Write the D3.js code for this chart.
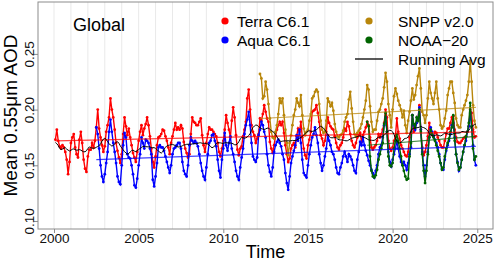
<!DOCTYPE html>
<html>
<head>
<meta charset="utf-8">
<script src="https://cdn.jsdelivr.net/npm/d3@7"></script>
<style>
  body { margin: 0; background: #fff; }
  svg { display: block; font-family: "Liberation Sans", Arial, Helvetica, sans-serif; }
</style>
</head>
<body>
<div id="chart"></div>
<script>
// monthly global mean 0.55um AOD, in thousandths, one row per year
var terraStart = [2000, 2];
var terraAOD = [
  173,182,172,167,165,168,166,162,155,142,153,
  170,175,178,166,160,157,173,180,170,155,147,144,
  158,164,164,170,166,172,184,200,183,175,168,162,
  167,180,186,193,210,200,193,182,170,163,157,152,
  160,178,193,185,177,183,175,168,161,157,153,162,
  172,180,186,177,183,187,193,186,176,165,153,148,
  158,168,175,176,178,182,181,176,172,166,160,170,
  176,182,188,182,184,182,186,183,171,165,161,157,
  160,178,193,189,188,186,186,189,192,177,168,162,
  170,178,184,182,182,180,178,176,170,162,158,165,
  172,182,195,188,182,175,190,202,193,177,164,159,
  165,167,176,182,189,210,218,200,186,180,177,170,
  174,178,192,190,196,204,198,192,189,171,165,161,
  168,176,182,186,189,186,189,179,168,160,153,156,
  165,168,170,166,176,183,180,189,175,165,159,156,
  168,173,180,198,199,200,204,197,189,177,174,168,
  172,180,193,188,185,183,182,176,170,166,164,168,
  170,175,183,181,189,185,178,172,168,166,170,175,
  177,179,171,177,180,184,189,186,175,166,164,166,
  168,172,178,175,178,182,188,200,193,172,165,163,
  166,172,176,192,180,174,168,165,162,159,158,162,
  175,179,195,180,186,188,192,204,182,166,159,162,
  168,176,188,180,177,176,180,179,175,172,168,166,
  166,172,178,183,183,188,193,194,182,175,171,170,
  170,172,174,175,176,180,185,200,197,182,175,176
];

var aquaStart = [2002, 7];
var aquaAOD = [
  184,178,165,150,140,135,
  142,152,162,180,191,180,170,162,152,140,135,133,
  150,168,179,175,160,157,156,150,142,132,130,138,
  150,160,175,170,165,173,172,170,165,160,137,131,
  140,152,166,168,166,166,163,158,153,148,143,150,
  160,165,166,168,170,170,165,153,145,142,140,150,
  168,175,172,170,172,170,167,160,152,145,140,137,
  148,160,170,172,177,178,172,167,155,145,139,155,
  165,179,168,163,170,176,165,160,153,145,140,137,
  148,157,165,178,186,191,198,186,170,158,155,153,
  157,177,182,189,186,180,175,160,150,144,140,148,
  162,168,171,173,170,167,160,155,143,134,128,140,
  152,158,163,168,177,172,182,170,155,143,141,139,
  150,160,168,175,178,184,177,170,160,152,145,150,
  158,165,177,172,168,162,160,155,148,143,142,148,
  152,158,162,158,153,160,158,155,150,145,143,155,
  162,171,168,175,168,163,159,154,150,146,143,139,
  145,150,160,166,168,175,186,193,180,162,153,149,
  155,160,165,172,165,158,153,150,153,150,146,152,
  160,166,195,186,182,188,192,202,182,162,150,140,
  150,162,175,184,180,176,173,170,166,160,152,147,
  146,155,163,168,172,178,186,188,175,160,153,145,
  148,155,162,168,172,180,185,197,185,168,155,150
];

var snppStart = [2012, 3];
var snppAOD = [
  232,228,210,212,225,218,205,192,180,175,
  174,180,186,196,210,206,210,195,182,170,159,170,
  177,186,195,200,210,206,203,213,195,183,177,180,
  182,190,196,210,212,216,218,216,205,190,182,179,
  180,190,210,207,203,206,199,187,180,176,175,177,
  178,181,189,193,196,209,216,201,189,178,176,179,
  181,183,187,193,200,208,222,218,203,189,180,182,
  182,190,198,200,205,210,220,233,225,205,195,184,
  200,212,219,214,208,204,200,193,199,186,179,190,
  198,208,219,209,213,222,230,237,219,198,195,188,
  195,210,225,215,210,205,215,225,210,200,186,183,
  185,192,199,213,219,225,225,215,206,192,186,184,
  184,195,200,204,208,213,225,244,225,204,190,184
];

var noaaStart = [2018, 7];
var noaaAOD = [
  189,185,158,145,140,139,
  141,146,155,160,165,170,187,197,180,158,150,149,
  152,165,172,178,172,165,158,150,145,140,137,138,
  158,170,195,187,184,193,190,200,180,160,145,134,
  145,160,175,182,178,175,172,168,163,158,152,146,
  148,158,165,170,174,180,184,195,172,160,152,146,
  148,155,162,168,176,180,188,206,185,165,155,158
];

// straight trend lines, value at first and last month of each record
var terraTrend = [0.172, 0.180];
var aquaTrend = [0.155, 0.167];
var snppTrend = [0.192, 0.202];
var noaaTrend = [0.168, 0.176];

var seriesNames = ["Terra C6.1", "Aqua C6.1", "SNPP v2.0", "NOAA\u221220"];
var seriesColors = ["#ff0000", "#0000ff", "#b8860b", "#006400"];
var xTicks = [2000, 2005, 2010, 2015, 2020, 2025];
var yTicks = [0.10, 0.15, 0.20, 0.25];
var gridYears = d3.range(2000, 2026);

// Set up the SVG dimensions
var width = 498;
var height = 261;
var plot = { left: 38, right: 493, top: 2, bottom: 229 };

function toSeries(start, vals) {
  return vals.map(function (v, i) {
    return { t: start[0] + (start[1] - 1 + i) / 12, v: v / 1000 };
  });
}

var allSeries = [
  toSeries(terraStart, terraAOD),
  toSeries(aquaStart, aquaAOD),
  toSeries(snppStart, snppAOD),
  toSeries(noaaStart, noaaAOD)
];
var trends = [terraTrend, aquaTrend, snppTrend, noaaTrend];

// running average: mean of the sensors each month, then 13-month centred mean
var byMonth = d3.rollup(allSeries.flat(), v => d3.mean(v, d => d.v), d => Math.round(d.t * 12));
var months = Array.from(byMonth.keys()).sort(d3.ascending);
var runAvg = months.map(function (m) {
  var win = [];
  for (var k = m - 6; k <= m + 6; k++) if (byMonth.has(k)) win.push(byMonth.get(k));
  return { t: m / 12, v: d3.mean(win) };
});

// Set up the scales
var xScale = d3.scaleLinear().domain([1999.055, 2025.93]).range([plot.left, plot.right]);
var yScale = d3.scaleLinear().domain([0.0928, 0.2966]).range([plot.bottom, plot.top]);

var svg = d3.select("#chart")
  .append("svg")
  .attr("width", width)
  .attr("height", height);

// light vertical grid, one per year
svg.append("g")
  .selectAll("line")
  .data(gridYears)
  .enter().append("line")
  .attr("x1", d => xScale(d))
  .attr("x2", d => xScale(d))
  .attr("y1", plot.top)
  .attr("y2", plot.bottom)
  .attr("stroke", "#e9e9e9")
  .attr("stroke-width", 1);

var line = d3.line()
  .x(d => xScale(d.t))
  .y(d => yScale(d.v));

// series lines and points
allSeries.forEach(function (s, i) {
  svg.append("path")
    .datum(s)
    .attr("d", line)
    .attr("fill", "none")
    .attr("stroke", seriesColors[i])
    .attr("stroke-width", 1.4);

  svg.append("g")
    .selectAll("circle")
    .data(s)
    .enter().append("circle")
    .attr("cx", d => xScale(d.t))
    .attr("cy", d => yScale(d.v))
    .attr("r", 1.4)
    .attr("fill", seriesColors[i]);
});

// trend lines
allSeries.forEach(function (s, i) {
  svg.append("line")
    .attr("x1", xScale(s[0].t))
    .attr("x2", xScale(s[s.length - 1].t))
    .attr("y1", yScale(trends[i][0]))
    .attr("y2", yScale(trends[i][1]))
    .attr("stroke", seriesColors[i])
    .attr("stroke-opacity", 0.75)
    .attr("stroke-width", 1.2);
});

// running average
svg.append("path")
  .datum(runAvg)
  .attr("d", line)
  .attr("fill", "none")
  .attr("stroke", "#000")
  .attr("stroke-width", 1);

// box
svg.append("rect")
  .attr("x", plot.left)
  .attr("y", plot.top)
  .attr("width", plot.right - plot.left)
  .attr("height", plot.bottom - plot.top)
  .attr("fill", "none")
  .attr("stroke", "#8c8c8c")
  .attr("stroke-width", 1);

// x axis
var xAxis = svg.append("g")
  .attr("transform", `translate(0,${plot.bottom})`)
  .call(d3.axisBottom(xScale).tickValues(xTicks).tickFormat(d3.format("d")).tickSize(4).tickPadding(0));
xAxis.select(".domain").remove();
xAxis.selectAll("line").attr("stroke", "#8c8c8c");
xAxis.selectAll("text")
  .attr("font-size", "13.5px")
  .attr("font-family", "Liberation Sans, Arial, sans-serif")
  .attr("fill", "#111");

// y axis, labels turned like the original
var yAxis = svg.append("g")
  .attr("transform", `translate(${plot.left},0)`)
  .call(d3.axisLeft(yScale).tickValues(yTicks).tickFormat(d3.format(".2f")).tickSize(4));
yAxis.select(".domain").remove();
yAxis.selectAll("line").attr("stroke", "#8c8c8c");
yAxis.selectAll("text")
  .attr("transform", "rotate(-90)")
  .attr("x", 0)
  .attr("y", -4)
  .attr("dy", 0)
  .attr("text-anchor", "middle")
  .attr("font-size", "13.5px")
  .attr("font-family", "Liberation Sans, Arial, sans-serif")
  .attr("fill", "#111");

// axis titles
svg.append("text")
  .attr("transform", `translate(17,${(plot.top + plot.bottom) / 2}) rotate(-90)`)
  .attr("text-anchor", "middle")
  .attr("font-size", "19px")
  .text("Mean 0.55\u03bcm AOD");

svg.append("text")
  .attr("x", (plot.left + plot.right) / 2)
  .attr("y", 258)
  .attr("text-anchor", "middle")
  .attr("font-size", "18px")
  .text("Time");

svg.append("text")
  .attr("x", 73)
  .attr("y", 31)
  .attr("font-size", "18px")
  .text("Global");

// legend
var legendItems = [
  { name: seriesNames[0], color: seriesColors[0], x: 225, tx: 237, y: 21, kind: "dot" },
  { name: seriesNames[1], color: seriesColors[1], x: 225, tx: 237, y: 40, kind: "dot" },
  { name: seriesNames[2], color: seriesColors[2], x: 369, tx: 398, y: 21, kind: "dot" },
  { name: seriesNames[3], color: seriesColors[3], x: 369, tx: 398, y: 40, kind: "dot" },
  { name: "Running Avg", color: "#000", x: 369, tx: 398, y: 59, kind: "line" }
];

var legend = svg.append("g");
legendItems.forEach(function (d) {
  if (d.kind === "dot") {
    legend.append("circle")
      .attr("cx", d.x).attr("cy", d.y).attr("r", 3.6)
      .attr("fill", d.color);
  } else {
    legend.append("line")
      .attr("x1", d.x - 14).attr("x2", d.x + 14)
      .attr("y1", d.y).attr("y2", d.y)
      .attr("stroke", d.color).attr("stroke-width", 1.3);
  }
  legend.append("text")
    .attr("x", d.tx)
    .attr("y", d.y + 5.5)
    .attr("font-size", "15.5px")
    .text(d.name);
});
</script>
</body>
</html>
